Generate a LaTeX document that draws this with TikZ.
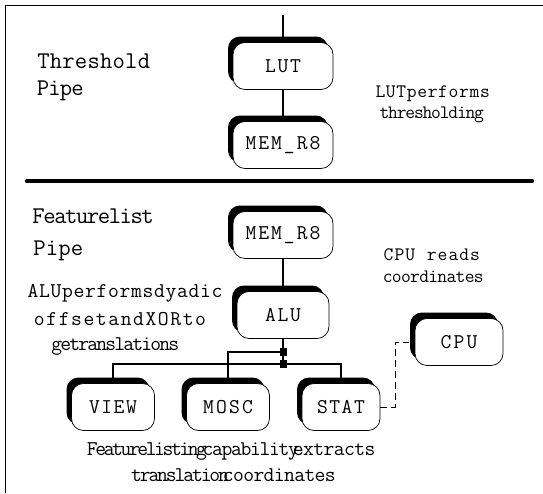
\documentclass[tikz,border=0pt]{standalone}
\usepackage{fontspec}
\usetikzlibrary{shadows,backgrounds}
\newcommand\fs[1]{\ttfamily\fontsize{#1}{#1}\selectfont}
\makeatletter
\newcommand\spaced[2]{\@tfor\sp@c:=#2\do{\makebox[#1][c]{\sp@c}}}
\makeatother
\tikzset{
  pbox/.style={draw, line width=0.7pt, fill=white, rounded corners=12pt,
    minimum width=#1, minimum height=47pt, inner sep=0pt,
    font=\fs{21},
    general shadow={fill=black, shadow xshift=-5pt, shadow yshift=6pt}},
  wire/.style={line width=2.2pt},
  lbl/.style={anchor=base west, inner sep=0pt},
  frame/.style={line width=0.8pt},
}
\begin{document}
\begin{tikzpicture}[x=1pt,y=-1pt]
\useasboundingbox (0,0) rectangle (543,493);
% frame
\draw[frame] (543,5) -- (5,5) -- (5,493);
\draw[line width=4.5pt, line cap=round] (27,181) -- (532,181);
% boxes
\node[pbox=100pt] (lut) at (283,66) {\spaced{12.5pt}{LUT}};
\node[pbox=100pt] (mema) at (283,145) {\spaced{12.8pt}{MEM\_R8}};
\node[pbox=100pt] (memb) at (283,235) {\spaced{12.8pt}{MEM\_R8}};
\node[pbox=92pt] (alu) at (283,315) {\spaced{12.5pt}{ALU}};
\node[pbox=88pt] (cpu) at (459,342) {\spaced{13pt}{CPU}};
\node[pbox=83pt] (view) at (113,407) {\spaced{12.3pt}{VIEW}};
\node[pbox=83pt] (mosc) at (228,407) {\spaced{13pt}{MOSC}};
\node[pbox=78pt] (stat) at (341,407) {\spaced{12.3pt}{STAT}};
% connectors
\coordinate (top) at (283,15);
\coordinate (j1) at (283,352);
\coordinate (j2) at (283,364);
\begin{scope}[on background layer]
\draw[wire] (top) -- (lut.center) -- (mema.center);
\draw[wire] (memb.center) -- (alu.center) -- (j2);
\draw[wire] (j1) -| (mosc.center);
\draw[wire] (view.center) |- (j2) -| (stat.center);
\end{scope}
\fill (j1) +(-3.5,-4) rectangle +(3.5,4);
\fill (j2) +(-3.5,-4) rectangle +(3.5,4);
\draw[line width=0.8pt, dash pattern=on 7pt off 4pt] (stat.east) -- ++(15,0) |- ([xshift=-6pt]cpu.west);
% texts
\node[lbl, font=\fs{24}] (t1) at (37,68) {\spaced{12.56pt}{Threshold}};
\node[lbl, font=\fs{24}] (t2) at (37,95) {\spaced{11.5pt}{Pipe}};
\node[lbl, font=\fs{19}] (d1) at (375,97) {\spaced{10.45pt}{LUTperforms}};
\node[lbl, font=\fs{19}] (d2) at (380,118) {\spaced{8.6pt}{thresholding}};
\node[lbl, font=\fs{24}] (t3) at (33,223) {\spaced{10.9pt}{Featurelist}};
\node[lbl, font=\fs{24}] (t4) at (33,255) {\spaced{12.5pt}{Pipe}};
\node[lbl, font=\fs{19}] (d3) at (383,260) {\spaced{10.8pt}{CPU\ reads}};
\node[lbl, font=\fs{19}] (d4) at (383,282) {\spaced{9.1pt}{coordinates}};
\node[lbl, font=\fs{21}] (a1) at (27,297) {\spaced{11.5pt}{ALUperformsdyadic}};
\node[lbl, font=\fs{21}] (a2) at (33,325) {\spaced{12.4pt}{offsetandXORto}};
\node[lbl, font=\fs{21}] (a3) at (52,350) {\spaced{9pt}{getranslations}};
\node[lbl, font=\fs{21}] (b1) at (88,455) {\spaced{8.4pt}{Featurelisting}};
\node[lbl, font=\fs{21}] (b2) at (203,455) {\spaced{9.5pt}{capability}};
\node[lbl, font=\fs{21}] (b3) at (293,455) {\spaced{10.25pt}{extracts}};
\node[lbl, font=\fs{21}] (b4) at (132,481) {\spaced{8.7pt}{translation}};
\node[lbl, font=\fs{21}] (b5) at (223,481) {\spaced{10.2pt}{coordinates}};
\end{tikzpicture}
\end{document}
